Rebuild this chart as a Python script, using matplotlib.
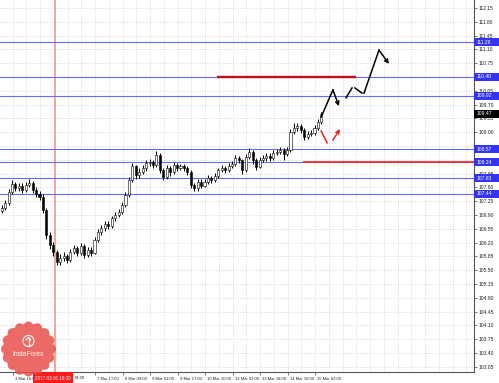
import numpy as np
import matplotlib
matplotlib.use("Agg")
import matplotlib.pyplot as plt
from matplotlib.patches import Rectangle, Polygon, Circle
import matplotlib.transforms as mtransforms

plt.rcParams["font.family"] = ["Liberation Sans", "DejaVu Sans"]

# ---------------- data ----------------
opens = [107.00,107.08,107.20,107.48,107.69,107.58,107.64,107.53,107.66,107.71,
         107.53,107.43,107.36,107.03,106.39,106.14,105.96,105.71,105.81,105.86,
         105.76,105.96,106.06,105.94,106.11,105.89,106.01,105.94,106.27,106.47,
         106.57,106.67,106.62,106.82,106.90,106.98,107.15,107.41,107.79,108.14,
         107.91,107.99,108.09,108.22,108.24,108.17,108.42,108.04,107.86,108.09,
         107.99,108.17,108.09,108.14,108.09,107.99,107.66,107.58,107.74,107.64,
         107.74,107.84,107.79,107.89,108.04,108.09,108.04,108.14,108.19,108.34,
         108.29,108.04,108.37,108.50,108.29,108.12,108.29,108.34,108.40,108.34,
         108.47,108.50,108.55,108.45,108.55,109.00,109.11,109.16,109.05,108.88,
         108.95,108.98,109.11,109.26]
closes = [107.08,107.20,107.48,107.69,107.58,107.64,107.53,107.66,107.71,107.53,
          107.43,107.36,107.03,106.39,106.14,105.96,105.71,105.81,105.86,105.76,
          105.96,106.06,105.94,106.11,105.89,106.01,105.94,106.27,106.47,106.57,
          106.67,106.62,106.82,106.90,106.98,107.15,107.41,107.79,108.14,107.91,
          107.99,108.09,108.22,108.24,108.17,108.42,108.04,107.86,108.09,107.99,
          108.17,108.09,108.14,108.09,107.99,107.66,107.58,107.74,107.64,107.74,
          107.84,107.79,107.89,108.04,108.09,108.04,108.14,108.19,108.34,108.29,
          108.04,108.37,108.50,108.29,108.12,108.29,108.34,108.40,108.34,108.47,
          108.50,108.55,108.45,108.55,109.00,109.11,109.16,109.05,108.88,108.95,
          108.98,109.11,109.26,109.47]
highs = [107.15,107.28,107.55,107.78,107.74,107.72,107.70,107.74,107.80,107.76,
         107.60,107.50,107.42,107.08,106.48,106.22,106.02,105.90,105.95,105.92,
         106.04,106.15,106.12,106.20,106.16,106.10,106.08,106.34,106.55,106.64,
         106.75,106.74,106.88,106.98,107.06,107.22,107.48,107.86,108.22,108.18,
         108.08,108.16,108.30,108.32,108.30,108.52,108.46,108.10,108.16,108.14,
         108.24,108.22,108.20,108.20,108.15,108.04,107.72,107.82,107.80,107.82,
         107.92,107.90,107.96,108.10,108.16,108.14,108.22,108.26,108.42,108.40,
         108.33,108.44,108.60,108.54,108.34,108.36,108.42,108.47,108.46,108.54,
         108.58,108.63,108.60,108.62,109.08,109.22,109.24,109.20,109.10,109.02,
         109.06,109.18,109.34,109.52]
lows = [106.95,107.02,107.15,107.42,107.50,107.52,107.46,107.48,107.60,107.45,
        107.36,107.28,106.95,106.30,106.05,105.85,105.62,105.64,105.74,105.68,
        105.72,105.90,105.86,105.88,105.80,105.84,105.86,105.90,106.22,106.40,
        106.50,106.54,106.57,106.76,106.84,106.92,107.10,107.36,107.74,107.82,
        107.84,107.93,108.02,108.14,108.10,108.12,107.96,107.78,107.80,107.90,
        107.94,108.02,108.03,108.02,107.92,107.58,107.50,107.52,107.58,107.60,
        107.68,107.72,107.73,107.84,107.98,107.97,107.99,108.08,108.14,108.22,
        107.95,108.00,108.32,108.20,108.05,108.08,108.24,108.28,108.27,108.30,
        108.42,108.45,108.30,108.40,108.50,108.95,109.04,108.98,108.80,108.82,
        108.90,108.94,109.06,109.20]
bar_pos = [2 * i + 1 for i in range(len(closes))]   # H1 bar index of each candle

ytick_vals = [103.05,103.40,103.75,104.10,104.45,104.80,105.15,105.50,105.85,106.20,
              106.55,106.90,107.25,107.60,107.95,108.30,108.65,109.00,109.35,109.70,
              110.05,110.40,110.75,111.10,111.45,111.80,112.15]
xtick_pos = [7.3, 23.3, 39.3, 55.3, 71.3, 87.3, 103.3, 119.3, 135.3, 151.3, 167.3, 183.3]
xtick_labels = ["3 Mar 16:00", "", "", "7 Mar 17:00", "8 Mar 09:00",
                "9 Mar 01:00", "9 Mar 17:00", "10 Mar 10:00", "13 Mar 02:00",
                "13 Mar 18:00", "14 Mar 10:00", "15 Mar 02:00"]
partial_label = "01:00"          # visible tail of "7 Mar 01:00" next to the date box
partial_label_bar = 43.6

levels = [111.28, 110.40, 109.92, 108.57, 108.24, 107.83, 107.44]
current_price = 109.47
resist_line = (126.2, 207.0, 110.40)
support_line = (176.3, 275.8, 108.24)
vline_bar = 32.0
vline_label = "2017.03.06 18:00"

fc1_x = [186.8, 193.7, 197.2]; fc1_y = [109.38, 110.07, 109.66]
fc2_x = [201.3, 204.8]; fc2_y = [109.87, 110.12]
fc3_x = [206.5, 210.6]; fc3_y = [110.12, 109.99]
fc4_x = [211.8, 220.5, 226.3]; fc4_y = [109.99, 111.08, 110.73]
red1_x = [186.8, 190.3]; red1_y = [109.03, 108.73]
red2_x = [193.7, 197.8]; red2_y = [108.80, 109.08]

# ---------------- figure ----------------
W, H = 499, 383
FSY = 3.6
FSX = 3.0
fig = plt.figure(figsize=(W / 100, H / 100), dpi=100)
fig.patch.set_facecolor("white")
ax = fig.add_axes([0, 11 / H, 474 / W, 372 / H])
ax.set_facecolor("white")
XMAX = 474 / 1.71875
ax.set_xlim(0, XMAX)
ax.set_ylim(102.92, 112.35)

# grid
for gx in np.arange(-0.7, XMAX, 8.0):
    ax.axvline(gx, color="#c9c9c9", lw=0.5, ls=(0, (1, 1.5)), zorder=0)
for gy in ytick_vals:
    ax.axhline(gy, color="#c9c9c9", lw=0.5, ls=(0, (1, 1.5)), zorder=0)

# vertical marker line
ax.axvline(vline_bar, color="#f3a08e", lw=1.3, zorder=1)

# level lines
for lv in levels:
    ax.axhline(lv, color="#6a6af0", lw=0.8, zorder=2)

ax.hlines(resist_line[2], resist_line[0], resist_line[1], color="#c0101a", lw=1.7, zorder=3)
ax.hlines(support_line[2], support_line[0], support_line[1], color="#ee3030", lw=1.3, zorder=3)

# candles
for x, o, c, h, l in zip(bar_pos, opens, closes, highs, lows):
    ax.vlines(x, l, h, color="black", lw=0.7, zorder=4)
    bottom, top = min(o, c), max(o, c)
    hgt = max(top - bottom, 0.012)
    fc = "white" if c >= o else "black"
    ax.add_patch(Rectangle((x - 0.6, bottom), 1.2, hgt, facecolor=fc,
                           edgecolor="black", lw=0.4, zorder=5))

# forecast path
arrow_kw = dict(lw=1.1, mutation_scale=6, shrinkA=0, shrinkB=0)
ax.plot(fc1_x[:2], fc1_y[:2], color="black", lw=1.1, zorder=6)
ax.annotate("", xy=(fc1_x[2], fc1_y[2]), xytext=(fc1_x[1], fc1_y[1]),
            arrowprops=dict(arrowstyle="->", color="black", **arrow_kw), zorder=6)
ax.plot(fc2_x, fc2_y, color="black", lw=1.1, zorder=6)
ax.plot(fc3_x, fc3_y, color="black", lw=1.1, zorder=6)
ax.plot(fc4_x[:2], fc4_y[:2], color="black", lw=1.1, zorder=6)
ax.annotate("", xy=(fc4_x[2], fc4_y[2]), xytext=(fc4_x[1], fc4_y[1]),
            arrowprops=dict(arrowstyle="->", color="black", **arrow_kw), zorder=6)
ax.plot(red1_x, red1_y, color="#ee2222", lw=1.1, zorder=6)
ax.annotate("", xy=(red2_x[1], red2_y[1]), xytext=(red2_x[0], red2_y[0]),
            arrowprops=dict(arrowstyle="->", color="#ee2222", **arrow_kw), zorder=6)

# axes styling
for s in ["top", "left"]:
    ax.spines[s].set_visible(False)
for s in ["right", "bottom"]:
    ax.spines[s].set_color("#555555")
    ax.spines[s].set_linewidth(0.8)
ax.yaxis.tick_right()
ax.set_yticks(ytick_vals)
covered = lambda v: any(abs(v - lv) < 0.11 for lv in levels)
ax.set_yticklabels(["" if covered(v) else f"{v:.2f}" for v in ytick_vals], fontsize=FSY)
ax.set_xticks(xtick_pos)
ax.set_xticklabels(xtick_labels, fontsize=FSX, ha="left")
ax.tick_params(axis="y", length=2, width=0.5, pad=1.5, colors="#444444", labelcolor="#222222")
ax.tick_params(axis="x", length=2, width=0.5, pad=1.6, colors="#444444", labelcolor="#222222")
for lab in ax.get_xticklabels():
    lab.set_transform(lab.get_transform() + mtransforms.ScaledTranslation(2 / 100, 0, fig.dpi_scale_trans))

trans_b = mtransforms.blended_transform_factory(ax.transData, ax.transAxes)
ax.text(partial_label_bar, -6 / 372, partial_label, transform=trans_b, fontsize=FSX,
        color="#222222", ha="left", va="center", clip_on=False)

# right-hand price boxes
trans_r = mtransforms.blended_transform_factory(ax.transAxes, ax.transData)
bw = 25 / 474
bh = 0.2
for lv in levels:
    ax.add_patch(Rectangle((1.0, lv - bh / 2), bw, bh, transform=trans_r, facecolor="#3434f5",
                           edgecolor="none", clip_on=False, zorder=10))
    ax.text(1.0 + 3 / 474, lv, f"{lv:.2f}", transform=trans_r, fontsize=FSY, color="white",
            va="center", ha="left", clip_on=False, zorder=11)
ax.add_patch(Rectangle((1.0, current_price - bh / 2), bw, bh, transform=trans_r,
                       facecolor="black", edgecolor="none", clip_on=False, zorder=10))
ax.text(1.0 + 3 / 474, current_price, f"{current_price:.2f}", transform=trans_r, fontsize=FSY,
        color="white", va="center", ha="left", clip_on=False, zorder=11)

# bottom red date box
ax.add_patch(Rectangle((19.2, -11 / 372), 23.3, 11 / 372, transform=trans_b, facecolor="#ff1a1a",
                       edgecolor="none", clip_on=False, zorder=10))
ax.text(30.85, -6 / 372, vline_label, transform=trans_b, fontsize=3.3, color="white",
        ha="center", va="center", clip_on=False, zorder=11)

# InstaForex logo
lax = fig.add_axes([0, 6 / H, 56 / W, 56 / H])
lax.set_xlim(-28, 28)
lax.set_ylim(-28, 28)
lax.axis("off")
th = np.linspace(0, 2 * np.pi, 400)
r = 25.0 + 2.5 * np.abs(np.cos(8 * th))
lax.add_patch(Polygon(np.c_[r * np.cos(th) + 0.5, r * np.sin(th)], closed=True,
                      facecolor="#e84a44", edgecolor="none", alpha=0.82))
lax.add_patch(Circle((0.5, 8), 5.5, facecolor="none", edgecolor="white", lw=0.8))
lax.plot([0.5, 0.5], [4, 11], color="white", lw=1.0)
lax.plot([-1.8, 0.5, 2.8], [9, 11.5, 9], color="white", lw=0.8)
lax.text(0.5, -5, "InstaForex", fontsize=4.8, color="white", ha="center", va="center")

fig.savefig("out.png", dpi=100)
